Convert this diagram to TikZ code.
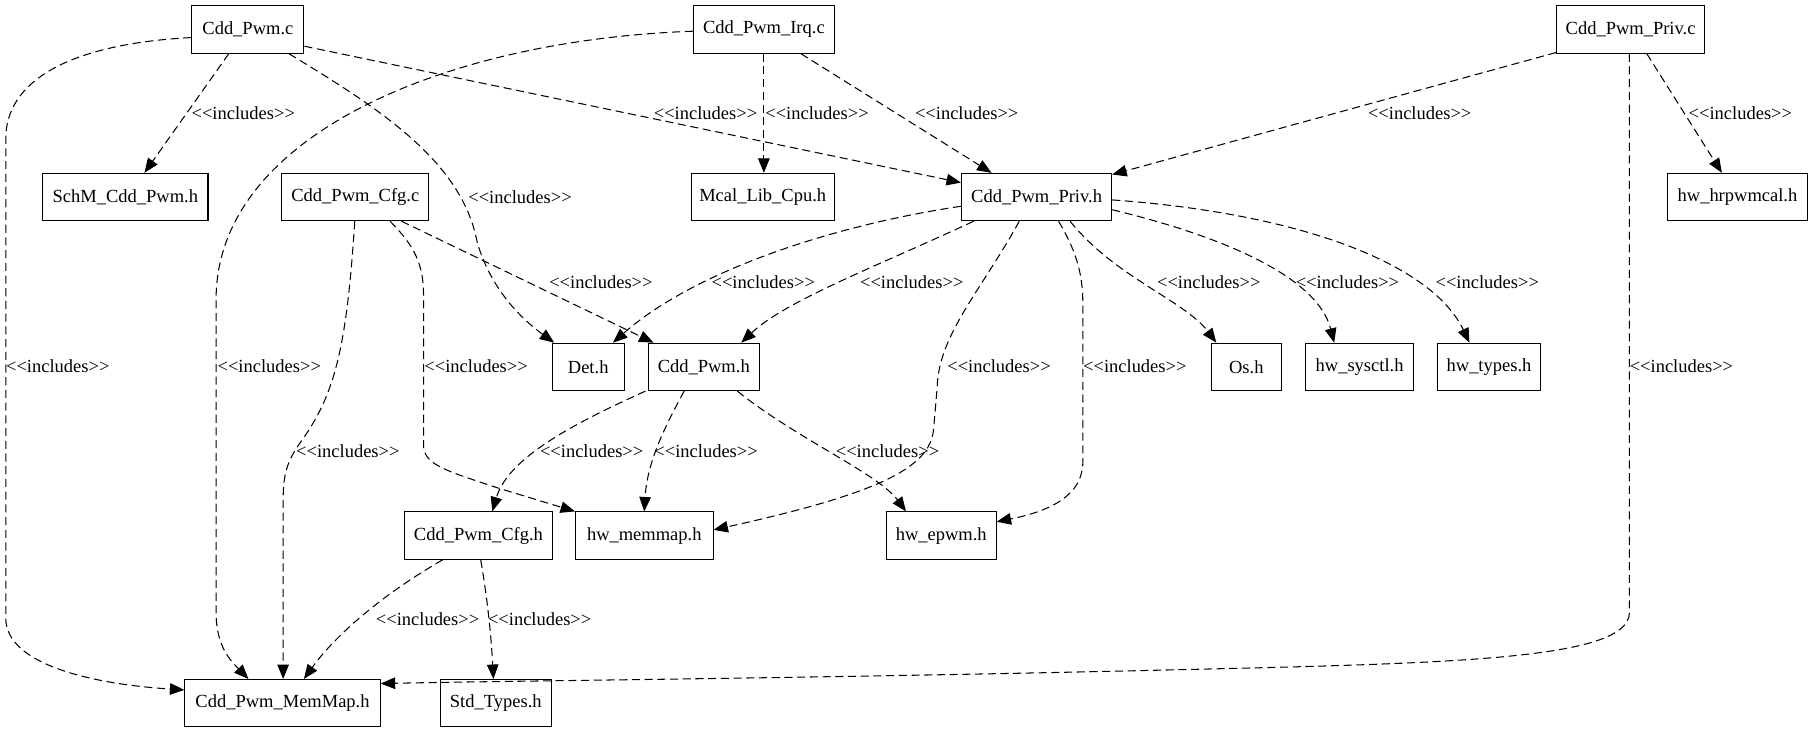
\documentclass[tikz,border=0pt]{standalone}
\usepackage{fontspec}
\setmainfont{Liberation Serif}
\usetikzlibrary{arrows.meta,calc}
\newcommand{\fsz}{\fontsize{16}{19}\selectfont}
\newcommand{\incl}{<{}<includes>{}>}
\tikzset{
  file/.style={draw, line width=0.9pt, minimum height=41pt, inner sep=0pt, font=\fsz},
  inc/.style={line width=0.9pt, dash pattern=on 7pt off 4pt, -{Triangle[length=12.5pt,width=10pt]}},
  lbl/.style={inner sep=0pt, font=\fsz}
}
\begin{document}
\begin{tikzpicture}[x=1pt,y=-1pt]
\fill[white] (0,0) rectangle (1568,634);
\useasboundingbox (0,0) rectangle (1568,634);
% nodes
\node[file, minimum width=97pt]  (pc)    at (214.5,25.5) {Cdd\_Pwm.c};
\node[file, minimum width=122pt] (irq)   at (661,25.5)   {Cdd\_Pwm\_Irq.c};
\node[file, minimum width=128pt] (privc) at (1411,25.5)  {Cdd\_Pwm\_Priv.c};
\node[file, minimum width=143pt] (schm)  at (108.5,170.5) {SchM\_Cdd\_Pwm.h};
\node[file, minimum width=127pt] (cfgc)  at (307.5,170.5) {Cdd\_Pwm\_Cfg.c};
\node[file, minimum width=124pt] (mcal)  at (660,170.5)  {Mcal\_Lib\_Cpu.h};
\node[file, minimum width=130pt] (privh) at (897,170.5)  {Cdd\_Pwm\_Priv.h};
\node[file, minimum width=121pt] (hrpw)  at (1503.5,170.5) {hw\_hrpwmcal.h};
\node[file, minimum width=62pt]  (det)   at (509,317.5)  {Det.h};
\node[file, minimum width=96pt]  (pwmh)  at (609,317.5)  {Cdd\_Pwm.h};
\node[file, minimum width=61pt]  (os)    at (1078.5,317.5) {Os.h};
\node[file, minimum width=93pt]  (sysctl) at (1176.5,317.5) {hw\_sysctl.h};
\node[file, minimum width=89pt]  (types) at (1288.5,317.5) {hw\_types.h};
\node[file, minimum width=128pt] (cfgh)  at (414,463.5)  {Cdd\_Pwm\_Cfg.h};
\node[file, minimum width=119pt] (hwmm)  at (557.5,463.5) {hw\_memmap.h};
\node[file, minimum width=95pt]  (epwm)  at (814.5,463.5) {hw\_epwm.h};
\node[file, minimum width=169pt] (mm)    at (244.5,608.5) {Cdd\_Pwm\_MemMap.h};
\node[file, minimum width=96pt]  (std)   at (429,608.5)  {Std\_Types.h};
% edges
\draw[inc] ($(pc.south)+(-16.5,0)$) -- ($(schm.north)+(16.5,0)$);
\draw[inc] ($(pc.west)+(0,7)$) .. controls (60,38) and (5,70) .. (5,120) -- (5,535) .. controls (5,575) and (80,592) .. ($(mm.west)+(0,-11.5)$);
\draw[inc] ($(irq.west)+(0,1.5)$) .. controls (380,35) and (186,120) .. (187,260) -- (187,530) .. controls (187,560) and (200,572) .. ($(mm.north)+(-29.5,0)$);
\draw[inc] ($(pc.south)+(35.5,0)$) .. controls (330,95) and (400,140) .. (413,210) .. controls (425,250) and (450,275) .. ($(det.north west)+(2,0)$);
\draw[inc] ($(pc.east)+(0,14.5)$) -- ($(privh.west)+(0,-12.5)$);
\draw[inc] (irq.south) -- ($(mcal.north)+(1,0)$);
\draw[inc] ($(irq.south)+(32,0)$) -- ($(privh.north)+(-39,0)$);
\draw[inc] ($(privc.south west)+(0,-1)$) -- ($(privh.north east)+(0,1.5)$);
\draw[inc] ($(privc.south)+(14,0)$) -- ($(hrpw.north)+(-13.5,0)$);
\draw[inc] ($(privc.south)+(-1,0)$) -- (1410,530) .. controls (1410,572) and (1250,574) .. (1000,580) .. controls (700,587) and (450,589) .. ($(mm.east)+(0,-17)$);
\draw[inc] ($(cfgc.south)+(-0.5,0)$) .. controls (300,300) and (290,340) .. (262,380) .. controls (247,400) and (245,412) .. (245,435) -- ($(mm.north)+(0.5,0)$);
\draw[inc] ($(cfgc.south)+(30,0)$) .. controls (358,212) and (366.5,228) .. (366.5,255) -- (366.5,385) .. controls (366.5,402) and (385,407) .. (430,422) -- (hwmm.north west);
\draw[inc] ($(cfgc.south)+(40,0)$) -- ($(pwmh.north west)+(5,0)$);
\draw[inc] ($(privh.west)+(0,8)$) .. controls (720,195) and (600,235) .. ($(det.north east)+(-10,0)$);
\draw[inc] ($(privh.south)+(-54.5,0)$) .. controls (760,230) and (680,260) .. ($(pwmh.north east)+(-16,0)$);
\draw[inc] ($(privh.south)+(-15,0)$) .. controls (850,250) and (812,290) .. (811,335) -- (808,370) .. controls (806,402) and (770,425) .. ($(hwmm.east)+(0,-5)$);
\draw[inc] ($(privh.south)+(19,0)$) .. controls (930,215) and (937,235) .. (937,262) -- (937,400) .. controls (937,428) and (910,442) .. ($(epwm.east)+(0,-12)$);
\draw[inc] ($(privh.south)+(29,0)$) .. controls (965,240) and (1025,260) .. ($(os.north west)+(5,0)$);
\draw[inc] ($(privh.east)+(0,11)$) .. controls (1060,205) and (1140,240) .. ($(sysctl.north west)+(25,0)$);
\draw[inc] ($(privh.east)+(0,2.5)$) .. controls (1130,185) and (1240,230) .. ($(types.north west)+(28,0)$);
\draw[inc] ($(pwmh.south west)+(-2,0)$) .. controls (500,365) and (440,395) .. ($(cfgh.north)+(12,0)$);
\draw[inc] ($(pwmh.south)+(-17,0)$) .. controls (575,370) and (560,400) .. (hwmm.north);
\draw[inc] ($(pwmh.south)+(29,0)$) .. controls (690,380) and (760,410) .. ($(epwm.north)+(-30.5,0)$);
\draw[inc] ($(cfgh.south)+(-31,0)$) .. controls (330,515) and (290,550) .. ($(mm.north)+(18.5,0)$);
\draw[inc] ($(cfgh.south)+(2,0)$) .. controls (422,520) and (425,550) .. ($(std.north)+(-2,0)$);
% labels
\node[lbl] (l1)  at (210.5,98)  {\incl};
\node[lbl] (l2)  at (50,317)    {\incl};
\node[lbl] (l3)  at (233,317)   {\incl};
\node[lbl] (l4)  at (450,171)   {\incl};
\node[lbl] (l5)  at (610.5,98)  {\incl};
\node[lbl] (l6)  at (707,98)    {\incl};
\node[lbl] (l7)  at (836.5,98)  {\incl};
\node[lbl] (l8)  at (1228.5,98) {\incl};
\node[lbl] (l9)  at (1506,98)   {\incl};
\node[lbl] (l10) at (1455,317)  {\incl};
\node[lbl] (l11) at (301,390)   {\incl};
\node[lbl] (l12) at (412,317)   {\incl};
\node[lbl] (l13) at (520,244.5) {\incl};
\node[lbl] (l14) at (660.5,244.5) {\incl};
\node[lbl] (l15) at (789,244.5) {\incl};
\node[lbl] (l16) at (864.5,317) {\incl};
\node[lbl] (l17) at (982,317)   {\incl};
\node[lbl] (l18) at (1046,244.5) {\incl};
\node[lbl] (l19) at (1166,244.5) {\incl};
\node[lbl] (l20) at (1287,244.5) {\incl};
\node[lbl] (l21) at (512,390)   {\incl};
\node[lbl] (l22) at (611,390)   {\incl};
\node[lbl] (l23) at (768,390)   {\incl};
\node[lbl] (l24) at (370,536)   {\incl};
\node[lbl] (l25) at (467,536)   {\incl};
\end{tikzpicture}
\end{document}
